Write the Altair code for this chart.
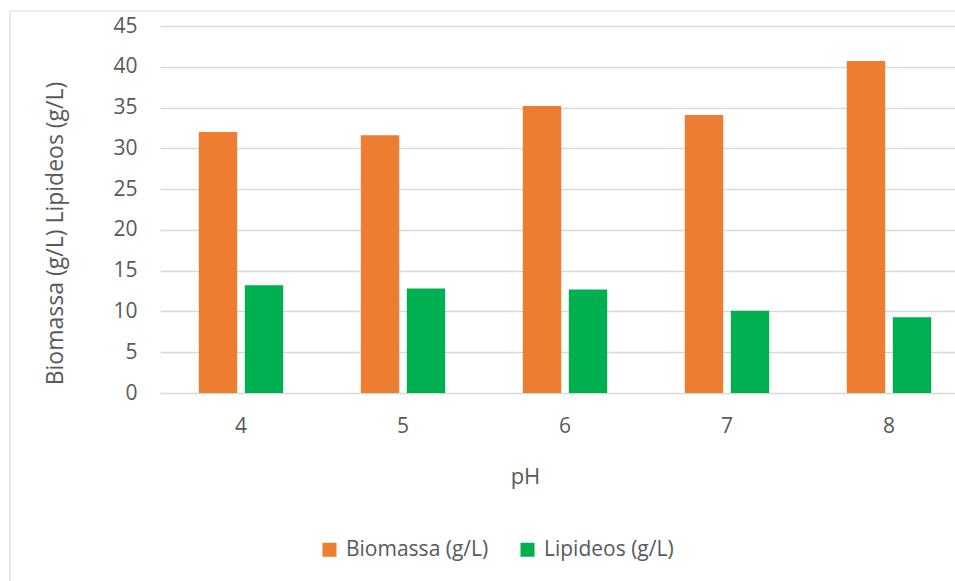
import altair as alt
import pandas as pd

# pH categories and measured concentrations (g/L)
ph_values = ["4", "5", "6", "7", "8"]
biomassa = [32.0, 31.6, 35.2, 34.1, 40.7]
lipideos = [13.2, 12.8, 12.7, 10.1, 9.3]
series_names = ["Biomassa (g/L)", "Lipideos (g/L)"]
series_colors = ["#ED7D31", "#00B050"]
y_ticks = list(range(0, 50, 5))

rows = []
for i, ph in enumerate(ph_values):
    rows.append({"pH": ph, "serie": series_names[0], "valor": biomassa[i]})
    rows.append({"pH": ph, "serie": series_names[1], "valor": lipideos[i]})
df = pd.DataFrame(rows)

FONT = "Open Sans"
TEXT = "#595959"
GRID = "#D9D9D9"

bars = alt.Chart(df).mark_bar(stroke=None).encode(
    x=alt.X(
        "pH:N",
        sort=ph_values,
        scale=alt.Scale(range=[0, 810], paddingInner=0.479, paddingOuter=0.2395),
        axis=alt.Axis(
            title="pH",
            labelAngle=0,
            ticks=False,
            tickSize=0,
            domain=False,
            grid=False,
            labelFont=FONT,
            labelFontSize=21,
            labelColor=TEXT,
            labelBaseline="alphabetic",
            labelPadding=39,
            titleFont=FONT,
            titleFontSize=22,
            titleFontWeight="normal",
            titleColor=TEXT,
            titleX=365,
            titleY=90,
            titleAlign="center",
            titleBaseline="alphabetic",
        ),
    ),
    xOffset=alt.XOffset(
        "serie:N",
        sort=series_names,
        scale=alt.Scale(paddingInner=0.165, paddingOuter=0),
    ),
    y=alt.Y(
        "valor:Q",
        scale=alt.Scale(domain=[0, 45], nice=False),
        axis=alt.Axis(
            values=y_ticks,
            title="Biomassa (g/L) Lipideos (g/L)",
            ticks=False,
            tickSize=0,
            domain=False,
            grid=True,
            gridColor=GRID,
            gridWidth=1.4,
            labelFont=FONT,
            labelFontSize=21,
            labelColor=TEXT,
            labelPadding=23,
            titleFont=FONT,
            titleFontSize=23,
            titleFontWeight="normal",
            titleColor=TEXT,
            titleAngle=270,
            titleX=-105,
            titleY=207,
            titleAlign="center",
            titleBaseline="middle",
        ),
    ),
    color=alt.Color(
        "serie:N",
        sort=series_names,
        scale=alt.Scale(domain=series_names, range=series_colors),
        legend=alt.Legend(
            title=None,
            orient="none",
            legendX=159,
            legendY=513,
            direction="horizontal",
            symbolType="square",
            symbolSize=196,
            symbolStrokeWidth=0,
            labelFont=FONT,
            labelFontSize=21,
            labelColor=TEXT,
            labelOffset=6,
            columnPadding=28,
        ),
    ),
)

# light chart-area frame around everything
frame = alt.Chart(alt.Data(values=[{}])).mark_rect(
    fill=None, stroke=GRID, strokeWidth=1.2
).encode(
    x=alt.value(-150),
    x2=alt.value(900),
    y=alt.value(-15),
    y2=alt.value(700),
)

chart = alt.layer(frame, bars).properties(
    width=795,
    height=367,
    autosize=alt.AutoSizeParams(type="none"),
    padding={"left": 160, "top": 26, "right": 0, "bottom": 188},
    background="white",
).configure_view(stroke=None)

chart.save("out.html", embed_options={"renderer": "svg", "actions": False})
